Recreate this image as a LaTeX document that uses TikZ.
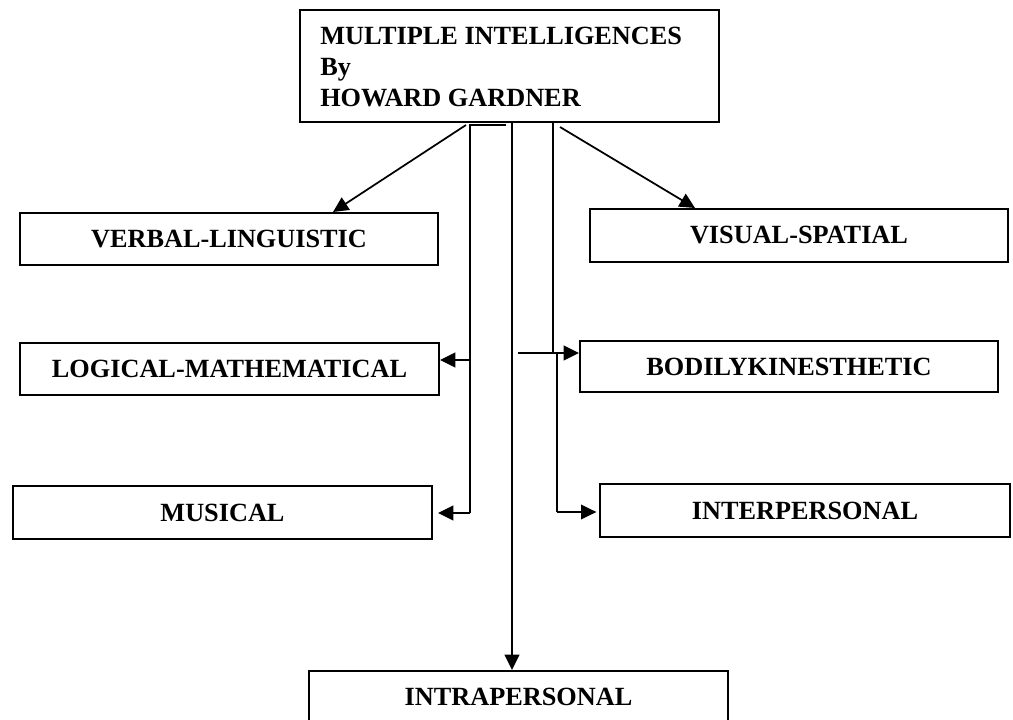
\documentclass[tikz,border=0pt]{standalone}
\usepackage{fontspec}
\setmainfont{Liberation Serif}
\usetikzlibrary{arrows.meta}
\begin{document}
\begin{tikzpicture}[x=0.75pt,y=-0.75pt,
  box/.style={draw, line width=1.5pt, rectangle, inner sep=0pt, font=\fontsize{19.7}{23}\selectfont\bfseries},
  conn/.style={line width=1.3pt},
  arr/.style={conn, -{Triangle[length=11.5pt,width=11pt]}}]
\useasboundingbox (0,0) rectangle (1013,720);
% boxes
\node[box, minimum width=314.25pt, minimum height=84pt] (top) at (509.5,66) {};
\node[anchor=base west, align=left, inner sep=0pt, font=\fontsize{19.7}{23.25}\selectfont\bfseries] (title) at (320,107) {MULTIPLE INTELLIGENCES\\By\\HOWARD GARDNER};
\node[box, minimum width=313.5pt, minimum height=39pt] (verbal) at (229,239) {VERBAL-LINGUISTIC};
\node[box, minimum width=313.5pt, minimum height=39.75pt] (visual) at (799,235.5) {VISUAL-SPATIAL};
\node[box, minimum width=314.25pt, minimum height=39pt] (logical) at (229.5,369) {LOGICAL-MATHEMATICAL};
\node[box, minimum width=313.5pt, minimum height=38.25pt] (bodily) at (789,366.5) {BODILYKINESTHETIC};
\node[box, minimum width=314.25pt, minimum height=39.75pt] (musical) at (222.5,512.5) {MUSICAL};
\node[box, minimum width=307.5pt, minimum height=39.75pt] (inter) at (805,510.5) {INTERPERSONAL};
\node[box, minimum width=314.25pt, minimum height=39pt] (intra) at (518.5,697) {INTRAPERSONAL};
% coordinates
\coordinate (t1) at (466,125);
\coordinate (v1) at (333,0);
\coordinate (t2) at (560,127);
\coordinate (v2) at (695,0);
\coordinate (L0) at (506,125);
\coordinate (L1) at (470,125);
\coordinate (L2) at (470,360);
\coordinate (L3) at (470,513);
\coordinate (M) at (512,0);
\coordinate (R0) at (523,122);
\coordinate (R1) at (553,122);
\coordinate (R2) at (553,353);
\coordinate (R3) at (518,353);
\coordinate (R4) at (557,353);
\coordinate (R5) at (557,512);
% connectors
\draw[arr] (t1) -- (verbal.north -| v1);
\draw[arr] (t2) -- (visual.north -| v2);
\draw[conn] (L0) -- (L1) -- (L3);
\draw[arr] (L2) -- (L2 -| logical.east);
\draw[arr, shorten >=3.75pt] (L3) -- (L3 -| musical.east);
\draw[arr] (top.south -| M) -- (intra.north -| M);
\draw[conn] (R0) -- (R1) -- (R2);
\draw[arr] (R3) -- (R3 -| bodily.west);
\draw[conn] (R4) -- (R5);
\draw[arr, shorten >=2pt] (R5) -- (R5 -| inter.west);
\end{tikzpicture}
\end{document}
